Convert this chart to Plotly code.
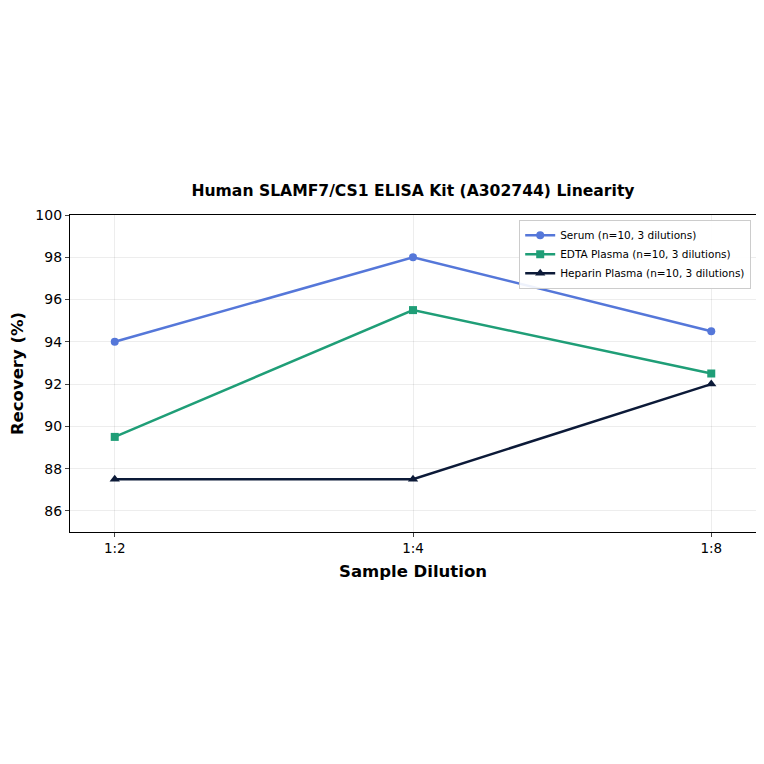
import plotly.graph_objects as go

categories = ["1:2", "1:4", "1:8"]
serum = [94.0, 98.0, 94.5]
edta = [89.5, 95.5, 92.5]
heparin = [87.5, 87.5, 92.0]
series_names = ["Serum (n=10, 3 dilutions)", "EDTA Plasma (n=10, 3 dilutions)", "Heparin Plasma (n=10, 3 dilutions)"]
y_ticks = [86, 88, 90, 92, 94, 96, 98, 100]

x_pos = list(range(len(categories)))

fig = go.Figure()
styles = [
    (serum, "#5577d9", "circle", 8),
    (edta, "#1f9e77", "square", 8),
    (heparin, "#0c1a38", "triangle-up", 9),
]
for (vals, color, sym, sz), name in zip(styles, series_names):
    fig.add_trace(go.Scatter(
        x=x_pos, y=vals, mode="lines+markers", name=name,
        line=dict(color=color, width=2.5),
        marker=dict(symbol=sym, size=sz, color=color),
    ))

fig.update_layout(
    width=764, height=764,
    paper_bgcolor="white", plot_bgcolor="white",
    font=dict(family="DejaVu Sans", color="black"),
    margin=dict(l=62, r=16, t=207, b=240),
    title=dict(text="<b>Human SLAMF7/CS1 ELISA Kit (A302744) Linearity</b>",
               x=0.5, xref="paper", xanchor="center",
               y=1 - 183 / 764, yref="container", yanchor="middle",
               font=dict(size=15.6)),
    showlegend=True,
    legend=dict(x=0.993, y=0.985, xanchor="right", yanchor="top",
                bgcolor="rgba(255,255,255,0.9)", bordercolor="#cccccc", borderwidth=1,
                font=dict(size=10.5), tracegroupgap=0, itemwidth=30),
)
fig.update_xaxes(
    range=[-0.15, 2.15], tickmode="array", tickvals=x_pos, ticktext=categories,
    title=dict(text="<b>Sample Dilution</b>", font=dict(size=16.5), standoff=10),
    showline=True, linecolor="black", linewidth=1.2, mirror=True,
    ticks="outside", ticklen=4, tickfont=dict(size=13.5), automargin=False,
    showgrid=True, gridcolor="rgba(0,0,0,0.07)", gridwidth=1, zeroline=False,
)
fig.update_yaxes(
    range=[85, 100], tickmode="array", tickvals=y_ticks,
    title=dict(text="<b>Recovery (%)</b>", font=dict(size=16.5), standoff=10),
    showline=True, linecolor="black", linewidth=1.2, mirror=True,
    ticks="outside", ticklen=4, tickfont=dict(size=14), automargin=False,
    showgrid=True, gridcolor="rgba(0,0,0,0.07)", gridwidth=1, zeroline=False,
)

fig.write_html("out.html")
